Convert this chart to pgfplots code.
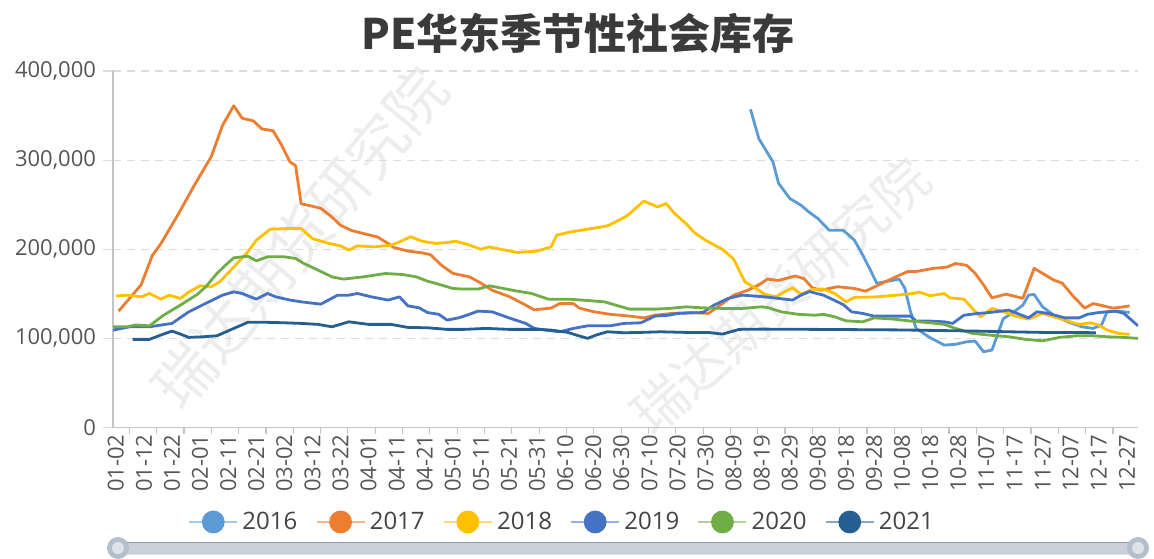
\documentclass[border=0pt]{standalone}
\usepackage{fontspec}
\setmainfont{Open Sans}
\newfontfamily\cjk{Noto Sans CJK SC}
\usepackage{pgfplots}
\pgfplotsset{compat=1.18}
\definecolor{c16}{HTML}{5B9BD5}
\definecolor{c17}{HTML}{ED7D31}
\definecolor{c18}{HTML}{FFC000}
\definecolor{c19}{HTML}{4472C4}
\definecolor{c20}{HTML}{70AD47}
\definecolor{c21}{HTML}{255E91}
\definecolor{gridc}{HTML}{DCDCDC}
\definecolor{axc}{HTML}{C4C4C4}
\definecolor{txt}{HTML}{555555}
\definecolor{ttl}{HTML}{3A3A3A}
\definecolor{leg}{HTML}{444444}
\definecolor{slbar}{HTML}{C9D0DA}
\definecolor{slh}{HTML}{B4BFCD}
\begin{document}
\begin{tikzpicture}
\useasboundingbox (-56.5pt,-65.25pt) rectangle (520.5pt,213.75pt);
\node[rotate=50, text=black!7, font=\cjk\fontsize{30}{30}\selectfont] at (93.5pt,95pt) {瑞达期货研究院};
\node[rotate=42, text=black!7, font=\cjk\fontsize{27}{27}\selectfont] at (333.5pt,66pt) {瑞达期货研究院};
\begin{axis}[
  at={(0,0)}, anchor=south west,
  scale only axis, width=512.5pt, height=178.25pt,
  xmin=1, xmax=366, ymin=0, ymax=400000,
  axis x line*=bottom, axis y line*=left,
  x axis line style={draw=axc, line width=0.7pt, -},
  y axis line style={draw=axc, line width=0.6pt, -},
  ytick={0,100000,200000,300000,400000},
  scaled y ticks=false,
  /pgf/number format/.cd, fixed, 1000 sep={,}, assume math mode=true, /pgfplots/.cd,
  ymajorgrids,
  major grid style={draw=gridc, dash pattern=on 4pt off 3pt, line width=0.6pt},
  tick align=outside, major tick length=5pt,
  ytick style={draw=gridc, line width=0.6pt},
  xtick style={draw=none},
  xtick={2,12,...,362},
  xticklabels={01-02,01-12,01-22,02-01,02-11,02-21,03-02,03-12,03-22,04-01,04-11,04-21,05-01,05-11,05-21,05-31,06-10,06-20,06-30,07-10,07-20,07-30,08-09,08-19,08-29,09-08,09-18,09-28,10-08,10-18,10-28,11-07,11-17,11-27,12-07,12-17,12-27},
  extra x ticks={6.8,16.53,...,357},
  extra x tick labels={},
  extra x tick style={major tick length=3pt, xtick style={draw=axc, line width=0.6pt}},
  xticklabel shift=-5pt,
  xticklabel style={rotate=90, anchor=east, font=\fontsize{11}{11}\selectfont, text=txt},
  yticklabel style={font=\fontsize{11}{11}\selectfont, text=txt},
  legend style={at={(0.439,-0.265)}, anchor=center, draw=none, fill=none,
    legend columns=6, font=\fontsize{12}{12}\selectfont, text=leg,
    /tikz/every even column/.append style={column sep=7pt}},
  legend image code/.code={
    \draw[#1, draw opacity=0.55, line width=1.2pt] (0pt,0pt) -- (24pt,0pt);
    \fill[#1] (12pt,0pt) circle (5pt);
  },
  every axis plot/.append style={line width=1.4pt, line join=round},
]
\addplot[c16] coordinates {(228,357000) (231,324000) (236,298000) (238,274000) (242,257000) (246,249400) (249,241300) (252,234500) (256,221400) (261,221400) (265,210200) (268,193400) (271,174700) (273,161700) (277,164200) (281,166500) (283,156000) (285,129800) (287,111200) (292,100700) (297,92500) (301,93300) (305,96200) (308,97000) (311,85000) (314,86900) (318,122000) (321,128000) (325,137300) (327,148500) (329,149300) (332,135400) (336,126000) (341,118600) (346,113000) (350,111200) (353,115000) (355,129800) (359,130600) (363,129000)};
\addlegendentry{2016}
\addplot[c17] coordinates {(3,130600) (11,160000) (15,193000) (18,206000) (24,238000) (30,272000) (36,304000) (40,339000) (44,361000) (47,347000) (51,344000) (54,335000) (58,333000) (61,317000) (64,298000) (66,294000) (68,251000) (71,249000) (75,246000) (79,236000) (82,227000) (86,221000) (91,217000) (95,214000) (99,206500) (101,202000) (106,198000) (111,196000) (114,194000) (118,182000) (122,173000) (125,171000) (128,169000) (132,162000) (136,154000) (142,147000) (147,139000) (151,132000) (157,134000) (160,139000) (165,139000) (167,134000) (172,130000) (178,127000) (185,125000) (190,123000) (194,126000) (200,128000) (207,129000) (213,128000) (218,139000) (222,148500) (227,154000) (231,160000) (234,166500) (238,165000) (244,170000) (247,167000) (250,157000) (253,154000) (259,158000) (265,156000) (269,153000) (274,160500) (279,168000) (284,175000) (287,175000) (293,178500) (298,180000) (301,184000) (305,182000) (308,173000) (311,160000) (314,145500) (319,149600) (325,145000) (329,178500) (332,173000) (336,165400) (339,162000) (343,147000) (347,134000) (350,139000) (353,137000) (357,134000) (360,135000) (363,136500)};
\addlegendentry{2017}
\addplot[c18] coordinates {(2,147400) (6,148500) (11,146600) (14,150400) (18,144000) (21,148500) (25,144800) (28,152000) (32,159000) (36,157800) (39,163500) (44,180000) (49,197000) (52,210000) (57,222500) (64,223300) (68,223300) (72,212000) (78,206500) (82,203800) (85,199000) (88,203800) (94,202700) (100,204600) (103,208300) (107,214000) (111,209000) (116,206500) (120,207600) (123,209000) (126,206500) (128,204600) (132,200000) (135,202700) (139,200000) (145,196400) (152,197900) (157,202700) (159,215800) (164,219500) (170,222500) (177,226200) (180,230700) (184,237400) (187,245700) (190,254000) (195,247500) (198,251300) (201,240000) (205,229000) (208,218800) (212,210000) (218,200000) (222,189000) (226,163500) (230,156000) (233,149600) (237,146600) (240,152000) (243,156700) (246,149600) (250,155000) (254,155300) (258,150400) (262,141000) (265,146000) (273,146600) (280,148500) (286,150400) (288,152000) (292,147800) (297,150400) (299,145500) (304,144000) (307,133600) (310,124200) (314,133600) (319,129000) (322,125300) (327,121600) (332,128000) (336,124200) (341,119400) (345,115700) (349,117500) (352,115000) (355,109300) (359,105600) (363,104500)};
\addlegendentry{2018}
\addplot[c19] coordinates {(1,109300) (7,113000) (14,113000) (22,116800) (28,129800) (34,139200) (40,148500) (44,152200) (47,150400) (52,144000) (56,150400) (59,146600) (64,143000) (68,141000) (75,138400) (81,148500) (85,148500) (88,150400) (93,146600) (99,143000) (103,146600) (106,136500) (110,134300) (113,129000) (117,127000) (120,120500) (124,123000) (127,126000) (131,130600) (136,129800) (142,123000) (148,116800) (151,111200) (155,109300) (160,107400) (165,111200) (170,114100) (178,114100) (183,116800) (189,117500) (194,125000) (199,126000) (202,128000) (211,129000) (215,137300) (220,144800) (225,148500) (230,147400) (234,146300) (243,143000) (246,148500) (249,152500) (254,148500) (261,138000) (264,129800) (268,128000) (272,125000) (279,125000) (285,125000) (287,119400) (292,119400) (297,118600) (300,116800) (304,126000) (309,128000) (313,129000) (320,131700) (323,128000) (327,123000) (330,129800) (334,128000) (340,123000) (345,123000) (348,127000) (352,129000) (358,130600) (361,128000) (366,114100)};
\addlegendentry{2019}
\addplot[c20] coordinates {(1,113000) (6,113000) (9,115000) (14,114100) (19,126000) (25,137300) (31,149300) (34,157800) (38,172800) (41,182000) (44,190400) (49,192200) (52,187000) (56,191500) (62,191500) (66,189700) (69,184000) (74,176600) (79,169000) (83,166500) (90,169000) (98,172800) (104,171700) (109,169000) (113,164200) (118,159800) (122,156000) (126,155300) (131,155300) (135,159000) (140,156000) (145,153000) (150,150400) (156,144000) (163,144000) (168,143000) (176,141000) (180,137300) (185,132800) (189,132800) (194,132800) (199,133600) (205,135400) (211,134300) (218,133600) (225,133600) (232,135400) (234,134700) (239,129800) (245,127000) (251,126000) (254,127000) (258,124200) (262,119700) (268,118600) (272,123000) (279,121600) (285,119400) (292,117500) (297,115700) (301,111200) (307,105600) (313,103700) (320,101800) (326,98900) (332,97300) (338,101100) (344,102900) (350,102900) (355,101800) (361,101100) (366,100000)};
\addlegendentry{2020}
\addplot[c21] coordinates {(8,98900) (14,98900) (18,103700) (22,108200) (25,104800) (28,101100) (33,101800) (38,102900) (44,111200) (49,118000) (56,118000) (62,117500) (68,116800) (74,115700) (79,113000) (85,118600) (92,115700) (100,115700) (106,112300) (113,111900) (120,110100) (126,110100) (134,111200) (142,110100) (152,110100) (157,109300) (163,106700) (166,103700) (170,100000) (173,103700) (177,107400) (183,106300) (189,106700) (196,107400) (205,106700) (213,106700) (218,104800) (224,110100) (232,110400) (251,110100) (281,109500) (308,108200) (320,107400) (332,106700) (344,106700) (351,106300)};
\addlegendentry{2021}
\end{axis}
\node[font=\cjk\bfseries\fontsize{21}{21}\selectfont, text=ttl] at (232.5pt,197.25pt) {PE华东季节性社会库存};
\fill[slbar, rounded corners=2pt] (-1.5pt,-63.5pt) rectangle (516pt,-57.25pt);
\draw[slh!80!black, line width=0.5pt] (-1.5pt,-57.25pt) -- (516pt,-57.25pt);
\fill[slh] (2.5pt,-60.25pt) circle (5.5pt);
\fill[slbar!60!white] (2.5pt,-60.25pt) circle (3pt);
\fill[slh] (512.5pt,-60.25pt) circle (5.5pt);
\fill[slbar!60!white] (512.5pt,-60.25pt) circle (3pt);
\end{tikzpicture}
\end{document}
